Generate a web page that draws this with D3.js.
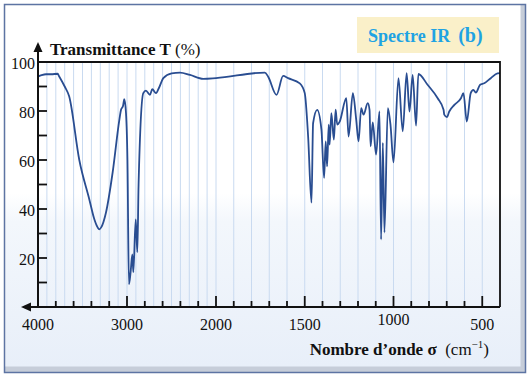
<!DOCTYPE html>
<html lang="fr">
<head>
<meta charset="utf-8">
<script src="https://cdn.jsdelivr.net/npm/d3@7/dist/d3.min.js"></script>
<style>
  body { margin: 0; background: #fff; }
  text { font-family: "Liberation Serif", "Times New Roman", serif; }
</style>
</head>
<body>
<div id="vis"></div>
<script>
// IR spectrum (b), wavenumber in cm-1 and transmittance in %
var wavenumber = [4000, 3960, 3910, 3850, 3780, 3760, 3700, 3650, 3536, 3424, 3367, 3330, 3311, 3290,
  3236, 3161, 3086, 3067, 3045, 3030, 3011, 2995, 2978, 2960, 2940, 2929, 2902, 2884, 2870, 2817,
  2787, 2742, 2716, 2674, 2640, 2592, 2498, 2404, 2292, 2143, 2000, 1725, 1706, 1659, 1622, 1594,
  1528, 1500, 1481, 1462, 1453, 1430, 1406, 1391, 1382, 1374, 1365, 1360, 1350, 1336, 1326, 1317,
  1303, 1266, 1253, 1229, 1210, 1197, 1182, 1169, 1145, 1135, 1129, 1117, 1098, 1079, 1070, 1060,
  1051, 1032, 1017, 1000, 972, 948, 926, 910, 892, 873, 860, 808, 751, 718, 714, 699, 686, 657,
  620, 606, 587, 565, 550, 536, 512, 489, 452, 414, 400];
var transmittance = [94, 94.6, 95, 95, 95.2, 94, 90, 86, 60, 44, 35.8, 32.5, 31.7, 32.5,
  38.6, 55, 76.4, 80.5, 82, 84.8, 79, 60, 9.3, 14, 21.5, 14.2, 35.8, 22.4, 50, 87.3,
  88.3, 86.6, 88.9, 87.3, 89.5, 93.4, 95.4, 95.7, 94.7, 93.1, 93.4, 95.7, 94, 86.6, 94.3, 93.4,
  91.3, 87.3, 69.6, 42.6, 75, 80.5, 72.4, 52.7, 67.6, 57.4, 74.4, 66.3, 79.1, 68.3, 80.5, 74.4,
  75.7, 85.2, 69.6, 87.3, 76.4, 67.6, 81.2, 78.5, 83.2, 80.5, 65.6, 75.3, 62.2, 79.8, 27.6, 67,
  30.4, 81.2, 74.4, 59, 93.4, 71.7, 95.4, 79.8, 94.7, 74, 95.1, 90.7, 85.2, 80.5, 78.5, 77.5, 79.8, 82.5,
  85.2, 87.3, 75.7, 87.3, 88.6, 87.5, 90.7, 91.3, 93.4, 95.4, 95.5];

var xTickValues = [4000, 3000, 2000, 1500, 1000, 500];
var yTickValues = [20, 40, 60, 80, 100];

var width = 529, height = 376;

var svg = d3.select("#vis").append("svg")
    .attr("width", width)
    .attr("height", height);

var defs = svg.append("defs");
var grad = defs.append("linearGradient")
    .attr("id", "panelGrad")
    .attr("x1", 0).attr("y1", 0).attr("x2", 0).attr("y2", 1);
grad.append("stop").attr("offset", "0%").attr("stop-color", "#ffffff");
grad.append("stop").attr("offset", "52%").attr("stop-color", "#ffffff");
grad.append("stop").attr("offset", "60%").attr("stop-color", "#f3f7fc");
grad.append("stop").attr("offset", "100%").attr("stop-color", "#e8eff9");

// panel with bevel on the right and bottom
svg.append("rect")
    .attr("x", 4.5).attr("y", 4.5)
    .attr("width", 521).attr("height", 368)
    .attr("fill", "#c6cdd9")
    .attr("stroke", "#5d74a3")
    .attr("stroke-width", 1.5);
svg.append("rect")
    .attr("x", 5.5).attr("y", 5.5)
    .attr("width", 515).attr("height", 361)
    .attr("fill", "url(#panelGrad)");

// scales: wavenumber axis is expanded x2 below 2000 cm-1
var x = d3.scaleLinear().domain([4000, 2000, 400]).range([38, 216, 500]);
var y = d3.scaleLinear().domain([0, 100]).range([307, 62]);

// light blue vertical grid every 100 cm-1
var gridValues = d3.range(3900, 400, -100);
svg.append("g")
  .selectAll("line")
  .data(gridValues)
  .enter()
  .append("line")
    .attr("x1", function(d){ return x(d); })
    .attr("x2", function(d){ return x(d); })
    .attr("y1", y(100))
    .attr("y2", y(0))
    .attr("stroke", "#c9daf0")
    .attr("stroke-width", 1);

// spectrum
var points = wavenumber.map(function(d, i){ return [d, transmittance[i]]; });
var line = d3.line()
    .x(function(d){ return x(d[0]); })
    .y(function(d){ return y(d[1]); })
    .curve(d3.curveMonotoneX);
svg.append("path")
    .datum(points)
    .attr("d", line)
    .attr("fill", "none")
    .attr("stroke", "#294d91")
    .attr("stroke-width", 1.8)
    .attr("stroke-linejoin", "round");

// frame: top and right border
svg.append("path")
    .attr("d", "M" + x(4000) + "," + y(100) + "H" + x(400) + "V" + y(0))
    .attr("fill", "none")
    .attr("stroke", "#111")
    .attr("stroke-width", 1.8);

// x axis with arrow to the left
svg.append("line")
    .attr("x1", 26).attr("x2", x(400))
    .attr("y1", y(0)).attr("y2", y(0))
    .attr("stroke", "#111").attr("stroke-width", 2);
svg.append("path")
    .attr("d", "M21," + y(0) + "l10,-4.5v9z")
    .attr("fill", "#111");

// y axis with arrow on top
svg.append("line")
    .attr("x1", x(4000)).attr("x2", x(4000))
    .attr("y1", y(0)).attr("y2", 48)
    .attr("stroke", "#111").attr("stroke-width", 2);
svg.append("path")
    .attr("d", "M" + x(4000) + ",42l-4.5,10h9z")
    .attr("fill", "#111");

// x ticks
var xMinor = d3.range(3800, 2000, -200).concat(d3.range(1900, 400, -100))
    .filter(function(d){ return xTickValues.indexOf(d) < 0; });
svg.append("g")
  .selectAll("line")
  .data(xMinor)
  .enter()
  .append("line")
    .attr("x1", function(d){ return x(d); })
    .attr("x2", function(d){ return x(d); })
    .attr("y1", y(0)).attr("y2", y(0) - 6)
    .attr("stroke", "#111").attr("stroke-width", 1.8);
svg.append("g")
  .selectAll("line")
  .data(xTickValues.slice(1))
  .enter()
  .append("line")
    .attr("x1", function(d){ return x(d); })
    .attr("x2", function(d){ return x(d); })
    .attr("y1", y(0)).attr("y2", y(0) - 11)
    .attr("stroke", "#111").attr("stroke-width", 1.8);
svg.append("g")
  .selectAll("text")
  .data(xTickValues)
  .enter()
  .append("text")
    .attr("x", function(d){ return x(d); })
    .attr("y", function(d){ return d == 1000 ? 325 : 330; })
    .attr("text-anchor", "middle")
    .attr("font-size", "16px")
    .attr("fill", "#111")
    .text(function(d){ return d; });

// y ticks
svg.append("g")
  .selectAll("line")
  .data(d3.range(10, 100, 10))
  .enter()
  .append("line")
    .attr("x1", x(4000) - 1)
    .attr("x2", x(4000) + 9)
    .attr("y1", function(d){ return y(d); })
    .attr("y2", function(d){ return y(d); })
    .attr("stroke", "#111").attr("stroke-width", 1.8);
svg.append("g")
  .selectAll("text")
  .data(yTickValues)
  .enter()
  .append("text")
    .attr("x", 35)
    .attr("y", function(d){ return y(d) + 7; })
    .attr("text-anchor", "end")
    .attr("font-size", "16px")
    .attr("fill", "#111")
    .text(function(d){ return d; });

// axis titles
var yTitle = svg.append("text")
    .attr("x", 50).attr("y", 55)
    .attr("font-size", "17px")
    .attr("fill", "#111");
yTitle.append("tspan").attr("font-weight", "bold").text("Transmittance T");
yTitle.append("tspan").text(" (%)");

var xTitle = svg.append("text")
    .attr("x", 489).attr("y", 355)
    .attr("text-anchor", "end")
    .attr("font-size", "17px")
    .attr("fill", "#111");
xTitle.append("tspan").attr("font-weight", "bold").text("Nombre d\u2019onde \u03c3");
xTitle.append("tspan").text("\u00a0 (cm");
xTitle.append("tspan").attr("font-size", "11px").attr("dy", -7).text("\u22121");
xTitle.append("tspan").attr("dy", 7).text(")");

// title box
svg.append("rect")
    .attr("x", 357).attr("y", 17)
    .attr("width", 142).attr("height", 36)
    .attr("fill", "#faf0c9");
var title = svg.append("text")
    .attr("x", 368).attr("y", 42)
    .attr("font-weight", "bold")
    .attr("fill", "#1fa3e3");
title.append("tspan").attr("font-size", "18px").text("Spectre IR");
title.append("tspan").attr("font-size", "20px").attr("dx", 8).text("(b)");
</script>
</body>
</html>
